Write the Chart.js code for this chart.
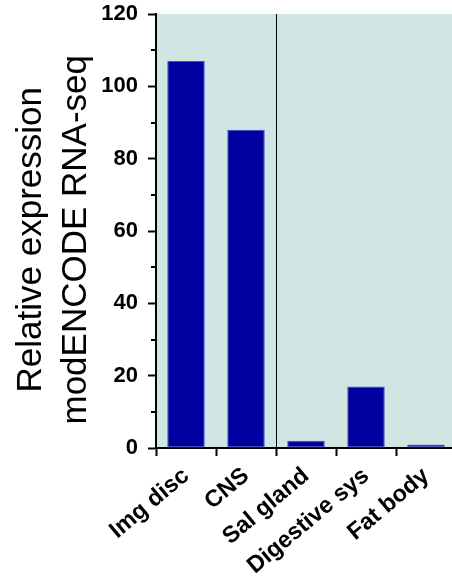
<!DOCTYPE html>
<html>
<head>
<meta charset="utf-8">
<title>Relative expression</title>
<script src="https://cdn.jsdelivr.net/npm/chart.js@4.4.0/dist/chart.umd.min.js"></script>
<style>
  html, body { margin: 0; padding: 0; background: #fff; overflow: hidden; }
  #grafico { display: block; }
</style>
</head>
<body>
<canvas id="grafico" width="460" height="581"></canvas>
<script>
// Datos del gráfico
const categorias = ['Img disc', 'CNS', 'Sal gland', 'Digestive sys', 'Fat body'];
const expresion = [107, 88, 2, 17, 1];
const ticksY = [0, 20, 40, 60, 80, 100, 120];
const ticksMenoresY = [10, 30, 50, 70, 90, 110];
const tituloY = ['Relative expression', 'modENCODE RNA-seq'];

const fuente = 'Arial, "Liberation Sans", sans-serif';

// Fondo verde claro del área del gráfico
const fondoArea = {
    id: 'fondoArea',
    beforeDraw(chart) {
        const { ctx, chartArea } = chart;
        ctx.save();
        ctx.fillStyle = '#CFE6E2';
        ctx.fillRect(chartArea.left, chartArea.top, chartArea.right - chartArea.left, chartArea.bottom - chartArea.top);
        ctx.restore();
    }
};

// Línea vertical entre CNS y Sal gland
const lineaDivisoria = {
    id: 'lineaDivisoria',
    beforeDatasetsDraw(chart) {
        const { ctx, chartArea, scales } = chart;
        const x = Math.round((scales.x.getPixelForValue(1) + scales.x.getPixelForValue(2)) / 2) + 0.5;
        ctx.save();
        ctx.strokeStyle = '#000';
        ctx.lineWidth = 1;
        ctx.beginPath();
        ctx.moveTo(x, chartArea.top);
        ctx.lineTo(x, chartArea.bottom);
        ctx.stroke();
        ctx.restore();
    }
};

// Marcas menores del eje Y
const marcasMenores = {
    id: 'marcasMenores',
    afterDraw(chart) {
        const { ctx, chartArea, scales } = chart;
        ctx.save();
        ctx.strokeStyle = '#000';
        ctx.lineWidth = 2;
        ticksMenoresY.forEach(v => {
            const y = Math.round(scales.y.getPixelForValue(v));
            ctx.beginPath();
            ctx.moveTo(chartArea.left - 5, y);
            ctx.lineTo(chartArea.left, y);
            ctx.stroke();
        });
        ctx.restore();
    }
};

const ctx = document.getElementById('grafico');
new Chart(ctx, {
    type: 'bar',
    data: {
        labels: categorias,
        datasets: [{
            data: expresion,
            backgroundColor: '#0000A0',
            borderColor: '#4a4ac4',
            borderWidth: 1,
            borderSkipped: false,
            barPercentage: 0.625,
            categoryPercentage: 1
        }]
    },
    options: {
        responsive: false,
        animation: false,
        layout: { padding: { top: 14, right: 4, left: 0, bottom: 0 } },
        plugins: {
            legend: { display: false },
            tooltip: { enabled: false }
        },
        scales: {
            x: {
                offset: true,
                border: { color: '#000', width: 2 },
                grid: { drawOnChartArea: false, tickLength: 8, tickColor: '#000', tickWidth: 2 },
                ticks: {
                    color: '#000',
                    font: { family: fuente, size: 23.5, weight: 'bold' },
                    maxRotation: 40,
                    minRotation: 40,
                    autoSkip: false,
                    padding: 6
                },
                afterFit: s => { s.height = 133; }
            },
            y: {
                min: 0,
                max: 120,
                border: { color: '#000', width: 2 },
                grid: { drawOnChartArea: false, tickLength: 8, tickColor: '#000', tickWidth: 2 },
                ticks: {
                    color: '#000',
                    font: { family: fuente, size: 22, weight: 'bold' },
                    padding: 10
                },
                afterBuildTicks: s => { s.ticks = ticksY.map(v => ({ value: v })); },
                title: {
                    display: true,
                    // el espacio final baja un poco el título centrado, como en el original
                    text: tituloY.map(t => t + '\u2002'),
                    color: '#000',
                    font: { family: fuente, size: 35, weight: 'normal', lineHeight: 1.31 },
                    padding: { top: 8, bottom: 0 }
                },
                afterFit: s => {
                    s.width = 156;
                    s.paddingTop = 0;
                    s.paddingBottom = 0;
                }
            }
        }
    },
    plugins: [fondoArea, lineaDivisoria, marcasMenores]
});
</script>
</body>
</html>
